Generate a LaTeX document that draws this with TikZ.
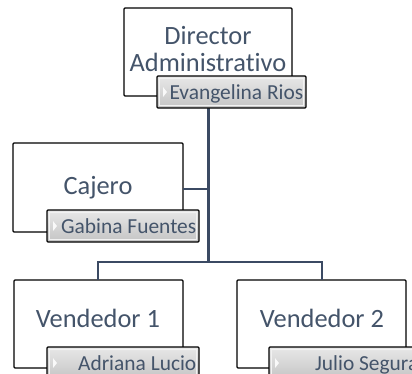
\documentclass[tikz,border=0pt]{standalone}
\usepackage{fontspec}
\setmainfont{Carlito}[Ligatures={NoCommon}]
\definecolor{txt}{HTML}{44546A}
\definecolor{conn}{HTML}{3B4A63}
\definecolor{ntop}{HTML}{E8E8E8}
\definecolor{nbot}{HTML}{C4C4C4}
\begin{document}
\begin{tikzpicture}[x=1bp,y=-1bp,
  rolebox/.style={draw=black,line width=1.3bp,fill=white,rounded corners=1bp},
  roletext/.style={text=txt,font=\fontsize{26.5}{28}\selectfont,align=center,inner sep=0pt},
  namebox/.style={draw=black,line width=1.3bp,top color=ntop,bottom color=nbot,rounded corners=1bp},
  nametext/.style={text=txt,font=\fontsize{21.5}{23}\selectfont,anchor=base east,inner sep=0pt},
  conn/.style={draw=conn,line width=2bp},
  trunk/.style={draw=conn,line width=3bp}]
\useasboundingbox (0,0) rectangle (412,374);
\clip (0,0) rectangle (412,374);
% role boxes
\draw[rolebox] (124,8) rectangle (292,96);
\draw[rolebox] (13,143) rectangle (183,232);
\draw[rolebox] (14,280) rectangle (183,368);
\draw[rolebox] (237,280) rectangle (406,368);
\coordinate (dirB) at (208,96);
\coordinate (jn) at (208,262);
\coordinate (cajR) at (183,189);
\coordinate (cajJ) at (208,189);
\coordinate (v1T) at (98,280);
\coordinate (v2T) at (322,280);
% connectors
\draw[conn] (cajR) -- (cajJ);
\draw[conn] (jn) -| (v1T);
\draw[conn] (jn) -| (v2T);
\draw[trunk] (dirB) -- (jn);
% role texts
\node[roletext] (dir) at (208,49) {Director\\Administrativo};
\node[roletext] (caj) at (98,188) {Cajero};
\node[roletext] (v1) at (98,318) {Vendedor 1};
\node[roletext] (v2) at (322,318) {Vendedor 2};
% name boxes
\foreach \x/\y/\w/\n/\t in {157/76/149/ne/Evangelina Rios,47/210/152/ng/Gabina Fuentes,47/347/152/na/Adriana Lucio,269/347/152/nj/Julio Segura}{
  \draw[namebox] (\x,\y) rectangle ++(\w,32);
  \draw[white!90!gray,line width=0.6bp] (\x+2.5,\y+2.5) rectangle ++(\w-5,27);
  \fill[white!95!gray] (\x+6,\y+11) -- (\x+10,\y+16) -- (\x+6,\y+21) -- cycle;
  \node[nametext] (\n) at (\x+\w-2.5,\y+23) {\t};
}
\end{tikzpicture}
\end{document}
